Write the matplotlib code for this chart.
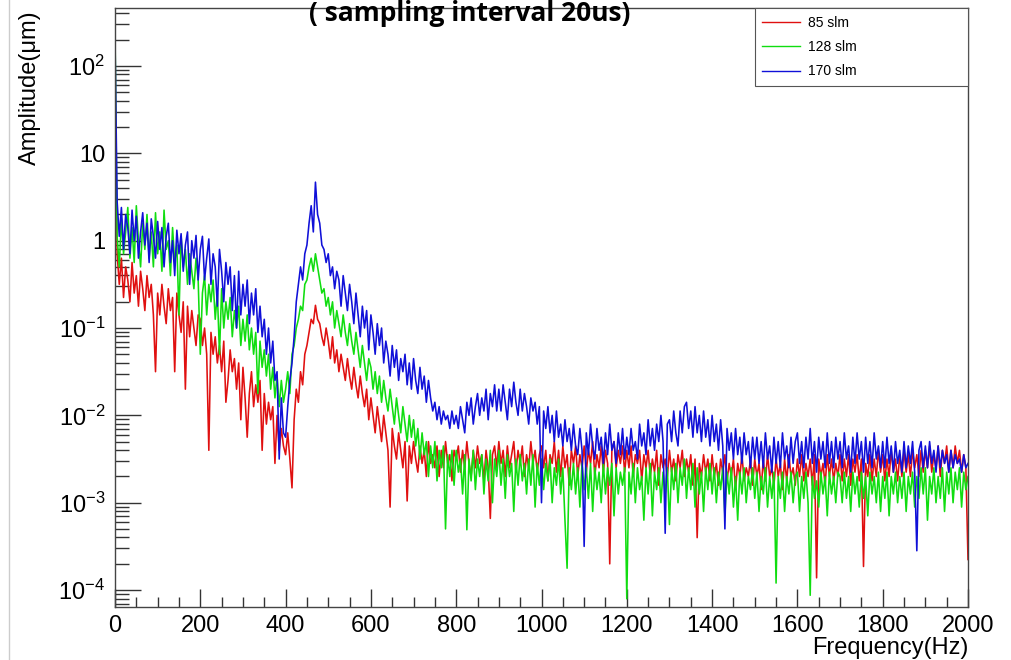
import numpy as np
import matplotlib.pyplot as plt
from matplotlib.ticker import LogLocator, NullFormatter, MultipleLocator
from matplotlib.lines import Line2D

# Data: frequency grid (Hz) and log10 of amplitude (um), every 5 Hz
freq = np.arange(0, 2001, 5)

log_amp_85 = [
    1.8, -0.15, -0.5, -0.2, -0.65, -0.3, -0.45, -0.7, -0.25, -0.6, -0.4, -0.75, -0.35, -0.55, -0.8, -0.4, -0.65, -0.5, -0.85, -1.5,
    -0.6, -0.85, -0.5, -0.75, -0.95, -0.55, -0.8, -0.65, -1.5, -0.6, -0.85, -1.05, -0.7, -1.7, -0.75, -1.1, -0.8, -1.0, -1.2, -0.85,
    -0.9, -1.2, -1.0, -1.3, -2.4, -1.05, -1.3, -1.1, -1.4, -1.2, -1.5, -1.15, -1.85, -1.6, -1.25, -1.5, -1.35, -1.7, -1.4, -2.05,
    -1.45, -1.8, -2.25, -1.75, -1.5, -1.9, -1.65, -1.85, -1.6, -2.4, -1.75, -2.1, -1.85, -2.05, -1.9, -2.55, -2.0, -2.4, -2.15, -2.35,
    -2.45, -2.2, -2.5, -2.83, -2.05, -1.7, -1.85, -1.5, -1.65, -1.3, -1.2, -1.05, -0.9, -0.95, -0.74, -0.9, -0.95, -1.1, -1.2, -1.0,
    -1.15, -1.35, -1.1, -1.4, -1.25, -1.5, -1.3, -1.45, -1.6, -1.35, -1.55, -1.7, -1.45, -1.65, -1.8, -1.55, -1.75, -1.9, -1.7, -2.05,
    -1.8, -2.0, -2.2, -1.9, -2.1, -2.3, -2.0, -2.2, -2.4, -3.05, -2.15, -2.35, -2.5, -2.2, -2.4, -2.6, -2.3, -2.98, -2.35, -2.55,
    -2.3, -2.5, -2.65, -2.35, -2.55, -2.4, -2.7, -2.3, -2.55, -2.45, -2.6, -2.35, -2.7, -2.4, -2.6, -2.3, -2.55, -2.45, -2.75, -2.4,
    -2.5, -2.35, -2.65, -2.4, -2.6, -2.3, -2.55, -2.7, -2.4, -2.6, -2.35, -2.55, -2.45, -2.75, -2.4, -2.6, -3.18, -2.45, -2.35, -2.6,
    -2.3, -2.55, -2.4, -2.7, -2.35, -2.6, -2.45, -2.3, -2.65, -2.4, -2.55, -2.35, -2.7, -2.45, -2.6, -2.3, -2.55, -2.4, -2.65, -2.45,
    -2.35, -2.6, -2.4, -2.75, -2.45, -2.55, -2.3, -2.65, -2.4, -2.7, -2.35, -2.6, -2.45, -2.8, -2.4, -2.55, -2.35, -2.7, -2.45, -2.6,
    -2.35, -2.65, -2.4, -2.55, -2.3, -2.7, -2.45, -2.6, -2.35, -2.65, -2.4, -2.55, -3.7, -2.4, -2.3, -2.6, -2.4, -2.55, -2.35, -2.65,
    -2.4, -2.6, -2.35, -2.7, -2.45, -2.55, -2.4, -2.75, -2.45, -2.6, -2.4, -2.7, -2.5, -2.65, -2.4, -2.8, -2.45, -2.6, -2.5, -2.7,
    -2.4, -2.65, -2.5, -2.75, -2.45, -2.6, -2.4, -2.7, -2.5, -2.65, -2.45, -2.8, -2.5, -3.4, -2.55, -2.7, -2.45, -2.65, -2.5, -2.75,
    -2.45, -2.7, -2.55, -2.8, -2.5, -2.65, -2.45, -2.75, -2.55, -2.7, -2.5, -2.85, -2.55, -2.7, -2.45, -2.75, -2.6, -2.7, -2.5, -2.8,
    -2.5, -2.7, -2.55, -2.85, -2.5, -2.75, -2.45, -2.7, -2.6, -2.8, -2.5, -2.7, -2.55, -2.85, -2.5, -2.75, -2.45, -2.7, -2.6, -2.8,
    -2.5, -2.7, -2.45, -2.75, -2.55, -2.7, -2.5, -2.8, -2.45, -3.86, -2.5, -2.7, -2.55, -2.8, -2.45, -2.7, -2.5, -2.75, -2.55, -2.7,
    -2.45, -2.75, -2.5, -2.7, -2.45, -2.8, -2.5, -2.65, -2.45, -2.75, -2.5, -3.73, -2.55, -2.7, -2.45, -2.75, -2.5, -2.7, -2.4, -2.65,
    -2.45, -2.75, -2.5, -2.7, -2.4, -2.65, -2.5, -2.75, -2.45, -2.7, -2.4, -2.65, -2.45, -2.7, -2.4, -2.6, -2.45, -2.7, -2.4, -2.65,
    -2.4, -2.6, -2.35, -2.65, -2.45, -2.6, -2.35, -2.7, -2.4, -2.55, -2.35, -2.65, -2.4, -2.6, -2.35, -2.55, -2.4, -2.65, -2.45, -2.6,
    -3.65,
]

log_amp_128 = [
    2.4, 0.05, -0.3, 0.25, -0.15, 0.1, 0.38, -0.2, 0.15, -0.25, 0.4, 0.0, -0.3, 0.2, -0.1, 0.3, -0.2, 0.1, -0.3, 0.32,
    -0.15, 0.1, -0.35, 0.35, -0.1, 0.0, -0.4, 0.15, -0.25, -0.05, -0.85, 0.05, -0.3, -0.1, -0.5, -0.15, -0.35, -0.55, -0.2, -0.45,
    -1.3, -0.6, -0.4, -0.85, -0.5, -0.7, -0.45, -0.9, -0.6, -1.3, -0.55, -1.0, -0.7, -0.9, -0.65, -1.1, -0.8, -1.0, -0.75, -1.2,
    -0.9, -1.15, -0.85, -1.25, -1.0, -1.3, -1.05, -1.75, -1.15, -1.45, -1.25, -1.55, -1.3, -1.7, -1.45, -1.8, -1.55, -1.9, -1.6, -1.85,
    -1.7, -1.5, -1.75, -1.3, -1.2, -1.0, -0.9, -0.75, -0.8, -0.5, -0.45, -0.3, -0.2, -0.35, -0.15, -0.3, -0.45, -0.6, -0.55, -0.75,
    -0.65, -0.85, -0.7, -1.0, -0.8, -0.95, -1.1, -0.85, -1.05, -1.2, -0.95, -1.15, -1.3, -1.05, -1.25, -1.45, -1.2, -1.4, -1.6, -1.35,
    -1.45, -1.7, -1.5, -1.75, -1.55, -1.85, -1.6, -1.8, -1.95, -1.7, -1.9, -2.1, -1.8, -2.0, -2.2, -1.9, -2.1, -2.3, -2.0, -2.25,
    -2.05, -2.35, -2.15, -2.5, -2.2, -2.45, -2.3, -2.7, -2.35, -2.6, -2.3, -2.75, -2.4, -2.6, -2.35, -3.3, -2.45, -2.7, -2.4, -2.8,
    -2.4, -2.65, -2.5, -2.9, -2.45, -3.31, -2.5, -2.75, -2.4, -2.85, -2.5, -2.7, -2.45, -2.9, -2.5, -2.75, -2.4, -3.0, -2.5, -2.7,
    -2.4, -2.8, -2.5, -2.95, -2.45, -2.7, -2.55, -3.1, -2.5, -2.8, -2.45, -2.75, -2.55, -2.9, -2.5, -2.8, -2.45, -3.05, -2.55, -2.8,
    -2.5, -2.85, -2.55, -2.75, -2.5, -3.0, -2.6, -2.8, -2.5, -2.9, -2.6, -3.2, -3.75, -2.6, -2.85, -2.55, -2.9, -2.6, -3.05, -2.55,
    -2.85, -2.6, -2.95, -2.55, -3.1, -2.6, -2.85, -2.65, -3.0, -2.55, -2.9, -2.6, -2.8, -2.55, -3.15, -2.6, -2.9, -2.65, -2.8, -2.6,
    -4.1, -2.65, -2.9, -2.55, -3.0, -2.6, -2.85, -2.7, -3.2, -2.6, -2.9, -2.55, -3.15, -2.65, -2.85, -2.6, -3.0, -2.65, -2.9, -2.6,
    -3.25, -2.6, -2.85, -2.55, -3.0, -2.6, -2.8, -2.5, -2.95, -2.6, -2.85, -2.55, -3.05, -2.6, -2.9, -2.65, -3.1, -2.6, -2.85, -2.55,
    -2.9, -2.6, -3.0, -2.65, -2.85, -2.6, -3.15, -2.65, -2.9, -2.6, -3.05, -2.7, -3.2, -2.65, -2.9, -2.6, -3.0, -2.7, -2.85, -2.6,
    -2.95, -2.65, -3.1, -2.7, -2.9, -2.6, -3.05, -2.7, -2.95, -2.65, -3.92, -2.7, -2.95, -2.65, -3.1, -2.7, -2.9, -2.65, -3.0, -2.7,
    -2.65, -3.1, -2.7, -2.95, -2.65, -3.0, -4.06, -2.7, -2.95, -2.75, -3.05, -2.65, -2.9, -2.7, -3.15, -2.65, -2.9, -2.7, -3.0, -2.65,
    -2.7, -3.0, -2.65, -2.95, -2.7, -3.1, -2.65, -2.9, -2.7, -3.05, -2.65, -2.95, -2.7, -3.15, -2.65, -2.9, -2.7, -3.0, -2.65, -3.1,
    -2.7, -2.95, -2.65, -3.15, -2.7, -2.9, -2.65, -3.0, -2.7, -2.95, -2.65, -3.1, -2.7, -2.9, -2.65, -3.05, -2.7, -2.95, -2.6, -2.9,
    -2.6, -3.2, -2.7, -2.9, -2.6, -3.0, -2.7, -2.95, -2.6, -3.1, -2.65, -2.9, -2.6, -3.0, -2.65, -2.85, -2.6, -3.05, -2.65, -2.85,
    -2.7,
]

log_amp_170 = [
    2.3, 0.45, 0.05, 0.38, -0.1, 0.3, 0.15, -0.15, 0.35, 0.0, 0.28, -0.2, 0.1, 0.32, -0.05, 0.2, -0.25, 0.25, 0.05, -0.2,
    0.22, -0.1, 0.15, -0.3, 0.05, 0.2, -0.25, 0.0, -0.4, 0.12, -0.15, 0.08, -0.35, -0.05, 0.1, -0.5, 0.0, -0.2, 0.06, -0.45,
    -0.1, 0.05, -0.45, -0.2, 0.02, -0.5, -0.15, -0.3, -0.75, -0.1, -0.35, -0.7, -0.25, -0.5, -0.3, -0.8, -0.4, -1.0, -0.35, -0.85,
    -0.5, -0.75, -0.45, -0.95, -0.6, -0.85, -0.55, -1.05, -0.75, -1.1, -0.9, -1.3, -1.0, -1.4, -1.15, -1.6, -1.5, -2.5, -1.8, -2.2,
    -2.25, -1.9, -1.6, -1.4, -1.1, -0.7, -0.5, -0.3, -0.45, -0.15, -0.05, 0.2, 0.4, 0.1, 0.67, 0.3, 0.2, -0.05, -0.1, -0.25,
    -0.15, -0.4, -0.3, -0.55, -0.35, -0.45, -0.75, -0.4, -0.6, -0.8, -0.5, -0.7, -0.95, -0.6, -0.85, -1.1, -0.75, -1.0, -0.8, -1.25,
    -0.85, -1.05, -1.3, -0.95, -1.2, -1.0, -1.4, -1.15, -1.3, -1.55, -1.2, -1.45, -1.25, -1.6, -1.35, -1.5, -1.3, -1.65, -1.4, -1.7,
    -1.35, -1.6, -1.75, -1.45, -1.7, -1.55, -1.85, -1.6, -1.8, -1.95, -1.85, -2.05, -1.9, -2.1, -1.95, -2.05, -2.0, -2.15, -1.95, -2.1,
    -2.0, -2.15, -1.9, -2.05, -2.2, -1.85, -2.0, -1.8, -2.1, -1.9, -1.75, -2.0, -1.8, -1.95, -1.7, -2.05, -1.75, -1.9, -1.65, -1.95,
    -1.7, -1.95, -1.65, -1.85, -2.05, -1.7, -1.9, -1.62, -1.85, -2.0, -1.7, -1.95, -1.75, -1.9, -2.1, -1.8, -1.95, -1.85, -2.1, -1.9,
    -3.0, -1.95, -2.15, -1.9, -2.2, -2.0, -2.3, -1.95, -2.25, -2.1, -2.35, -2.05, -2.3, -2.15, -2.4, -2.1, -2.35, -2.45, -2.15, -2.4,
    -3.5, -2.2, -2.45, -2.1, -2.35, -2.5, -2.15, -2.4, -2.25, -2.55, -2.2, -2.45, -2.1, -2.4, -2.3, -2.55, -2.2, -2.45, -2.15, -2.5,
    -2.25, -2.45, -2.15, -2.4, -2.3, -2.5, -2.1, -2.35, -2.2, -2.45, -2.05, -2.35, -2.15, -2.4, -2.1, -2.3, -2.0, -2.3, -3.35, -2.1,
    -2.05, -2.3, -1.95, -2.2, -2.35, -1.95, -2.2, -1.9, -1.85, -2.15, -1.95, -2.25, -1.9, -2.2, -2.0, -2.3, -1.95, -2.25, -2.05, -2.35,
    -2.0, -2.3, -2.1, -2.4, -2.05, -2.35, -3.3, -2.15, -2.4, -2.2, -2.5, -2.15, -2.45, -2.25, -2.55, -2.2, -2.45, -2.3, -2.6, -2.25,
    -2.5, -2.25, -2.55, -2.3, -2.6, -2.2, -2.5, -2.35, -2.65, -2.25, -2.55, -2.3, -2.6, -2.2, -2.5, -2.35, -2.6, -2.25, -2.55, -2.3,
    -2.2, -2.55, -2.3, -2.6, -2.25, -2.5, -2.15, -2.55, -2.3, -2.65, -2.25, -2.5, -2.3, -2.6, -2.2, -2.55, -2.3, -2.6, -2.25, -2.5,
    -2.3, -2.6, -2.2, -2.5, -2.35, -2.65, -2.25, -2.55, -2.2, -2.5, -2.3, -2.65, -2.25, -2.55, -2.3, -2.6, -2.2, -2.5, -2.35, -2.6,
    -2.3, -2.6, -2.25, -2.55, -2.35, -2.65, -2.3, -2.55, -2.4, -2.65, -2.3, -2.6, -2.35, -2.55, -2.3, -2.65, -3.55, -2.4, -2.3, -2.6,
    -2.35, -2.6, -2.3, -2.55, -2.4, -2.65, -2.35, -2.6, -2.4, -2.55, -2.45, -2.65, -2.4, -2.6, -2.45, -2.55, -2.5, -2.65, -2.45, -2.6,
    -2.55,
]

labels = ["85 slm", "128 slm", "170 slm"]
series = [log_amp_85, log_amp_128, log_amp_170]
colors = ["#e01010", "#10dd10", "#1010d8"]

ytick_vals = [1e-4, 1e-3, 1e-2, 1e-1, 1, 10, 100]
ytick_labels = ["$10^{-4}$", "$10^{-3}$", "$10^{-2}$", "$10^{-1}$", "1", "10", "$10^{2}$"]
xtick_vals = [0, 200, 400, 600, 800, 1000, 1200, 1400, 1600, 1800, 2000]

for s in series:
    assert len(s) == len(freq), len(s)

plt.rcParams["font.family"] = ["Liberation Sans", "DejaVu Sans"]
plt.rcParams["mathtext.fontset"] = "custom"
plt.rcParams["mathtext.rm"] = "Liberation Sans"
plt.rcParams["mathtext.it"] = "Liberation Sans:italic"
plt.rcParams["mathtext.bf"] = "Liberation Sans:bold"

fig = plt.figure(figsize=(10.11, 6.6), dpi=100)
ax = fig.add_axes([115 / 1011, 1 - 607 / 660, 853 / 1011, 599 / 660])

for label, vals, color in zip(labels, series, colors):
    ax.plot(freq, 10.0 ** np.array(vals), color=color, linewidth=1.15, label=label)

ax.set_yscale("log")
ax.set_xlim(0, 2000)
ax.set_ylim(6.4e-5, 461)

# ROOT-like ticks: inside, left and bottom only
ax.set_yticks(ytick_vals)
ax.set_yticklabels(ytick_labels)
ax.yaxis.set_minor_locator(LogLocator(base=10, subs=np.arange(2, 10), numticks=20))
ax.yaxis.set_minor_formatter(NullFormatter())
ax.set_xticks(xtick_vals)
ax.xaxis.set_minor_locator(MultipleLocator(50))
ax.tick_params(axis="y", which="major", direction="in", length=19, width=1, labelsize=17, pad=7, color="#333333")
ax.tick_params(axis="y", which="minor", direction="in", length=10, width=1, color="#333333")
ax.tick_params(axis="x", which="major", direction="in", length=13, width=1, labelsize=17, pad=6, color="#333333")
ax.tick_params(axis="x", which="minor", direction="in", length=7, width=1, color="#333333")
for sp in ax.spines.values():
    sp.set_color("#444444")
    sp.set_linewidth(1)

leg = ax.legend(loc="upper left", bbox_to_anchor=(0.75, 0.8748, 0.25, 0.1252), mode="expand",
                borderaxespad=0, fontsize=10, handlelength=2.7, handletextpad=0.6,
                labelspacing=0.75, fancybox=False, framealpha=1, borderpad=0.55)
leg.get_frame().set_edgecolor("#555555")
leg.get_frame().set_linewidth(0.8)
for h in leg.get_lines():
    h.set_linewidth(1.0)

fig.text(30 / 1011, 1 - 10 / 660, "Amplitude(μm)", rotation=90, ha="center", va="top", fontsize=17)
fig.text(968 / 1011, 1 - 648 / 660, "Frequency(Hz)", ha="right", va="center", fontsize=17)
fig.text(470 / 1011, 1 - 21 / 660, "( sampling interval 20us)", ha="center", va="baseline",
         fontsize=19, fontweight="bold", family=["Open Sans", "DejaVu Sans"])

fig.add_artist(Line2D([9 / 1011, 9 / 1011], [0, 1], transform=fig.transFigure, color="#cccccc", linewidth=1))

fig.savefig("out.png", dpi=100)
